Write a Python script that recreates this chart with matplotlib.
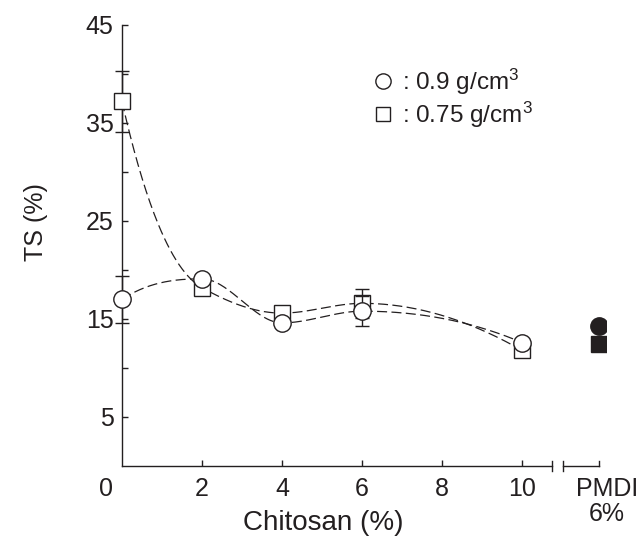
import numpy as np
import matplotlib
matplotlib.use('Agg')
import matplotlib.pyplot as plt
from matplotlib.lines import Line2D

# ------------------------------------------------------------------
# Data
# ------------------------------------------------------------------
chitosan = [0, 2, 4, 6, 10]
ts_090 = [17.0, 19.1, 14.6, 15.8, 12.6]
err_090 = [2.4, 0.5, 0.4, 1.5, 0.4]
ts_075 = [37.2, 18.2, 15.6, 16.6, 11.8]
err_075 = [3.1, 0.5, 0.6, 1.5, 0.4]
pmdi_090 = 14.3
pmdi_075 = 12.4
xtick_values = [2, 4, 6, 8, 10]
ytick_major = [5, 15, 25, 35, 45]
ytick_minor = [10, 20, 30, 40]

ink = '#231f20'
plt.rcParams['font.family'] = ['Liberation Sans', 'DejaVu Sans']
plt.rcParams['mathtext.fontset'] = 'custom'
plt.rcParams['mathtext.rm'] = 'Liberation Sans'
plt.rcParams['mathtext.it'] = 'Liberation Sans:italic'
plt.rcParams['mathtext.bf'] = 'Liberation Sans:bold'


def pchip_curve(x, y, xs, startSlope=None):
    # monotone cubic hermite through the points (smooth guide line)
    x = np.asarray(x, float)
    y = np.asarray(y, float)
    h = np.diff(x)
    d = np.diff(y) / h
    n = len(x)
    m = np.zeros(n)
    for k in range(1, n - 1):
        if d[k - 1] * d[k] > 0:
            w1 = 2 * h[k] + h[k - 1]
            w2 = h[k] + 2 * h[k - 1]
            m[k] = (w1 + w2) / (w1 / d[k - 1] + w2 / d[k])
    def endSlope(h0, h1, d0, d1):
        s = ((2 * h0 + h1) * d0 - h0 * d1) / (h0 + h1)
        if np.sign(s) != np.sign(d0):
            s = 0.0
        elif np.sign(d0) != np.sign(d1) and abs(s) > abs(3 * d0):
            s = 3 * d0
        return s
    m[0] = endSlope(h[0], h[1], d[0], d[1])
    m[-1] = endSlope(h[-1], h[-2], d[-1], d[-2])
    if startSlope is not None:
        m[0] = startSlope
    out = np.empty_like(xs)
    for i, xv in enumerate(xs):
        k = min(np.searchsorted(x, xv, side='right') - 1, n - 2)
        t = (xv - x[k]) / h[k]
        h00 = 2 * t**3 - 3 * t**2 + 1
        h10 = t**3 - 2 * t**2 + t
        h01 = -2 * t**3 + 3 * t**2
        h11 = t**3 - t**2
        out[i] = h00 * y[k] + h10 * h[k] * m[k] + h01 * y[k + 1] + h11 * h[k] * m[k + 1]
    return out


fig = plt.figure(figsize=(6.42, 5.41), dpi=100)
ax = fig.add_axes([122 / 642, 75 / 541, 484 / 642, 441 / 541])
ax.set_xlim(0, 12.1)
ax.set_ylim(0, 45)

#------------- smooth dashed guide curves
xs = np.linspace(0, 10, 400)
dash = (0, (8, 3.5))
ax.plot(xs, pchip_curve(chitosan, ts_075, xs, startSlope=-18), color=ink,
        linewidth=0.9, linestyle=dash, zorder=2)
ax.plot(xs, pchip_curve(chitosan, ts_090, xs), color=ink,
        linewidth=0.9, linestyle=dash, zorder=2)

#------------- points with error bars
ax.errorbar(chitosan, ts_075, yerr=err_075, fmt='s', markersize=11.5,
            markerfacecolor='white', markeredgecolor=ink, markeredgewidth=1.0,
            ecolor=ink, elinewidth=1.0, capsize=5, capthick=1.0, zorder=3,
            clip_on=False)
ax.errorbar(chitosan, ts_090, yerr=err_090, fmt='o', markersize=12.5,
            markerfacecolor='white', markeredgecolor=ink, markeredgewidth=1.0,
            ecolor=ink, elinewidth=1.0, capsize=5, capthick=1.0, zorder=4,
            clip_on=False)

#------------- PMDI reference
pmdiPos = 11.93
ax.plot([pmdiPos], [pmdi_075], 's', markersize=12, color=ink, zorder=3)
ax.plot([pmdiPos], [pmdi_090], 'o', markersize=12.5, color=ink, zorder=4)

#------------- axes / broken x axis
for side in ['top', 'right']:
    ax.spines[side].set_visible(False)
ax.spines['left'].set_color(ink)
ax.spines['bottom'].set_color(ink)
ax.spines['left'].set_linewidth(1.0)
ax.spines['bottom'].set_linewidth(1.0)
ax.spines['bottom'].set_bounds(0, 10.75)
trans = ax.get_xaxis_transform()
breakH = 0.012
ax.plot([10.75, 10.75], [-breakH, breakH], color=ink, lw=1.0, transform=trans, clip_on=False)
ax.plot([11.03, 11.03], [-breakH, breakH], color=ink, lw=1.0, transform=trans, clip_on=False)
ax.plot([11.03, 11.93], [0, 0], color=ink, lw=1.0, transform=trans, clip_on=False)
ax.plot([11.93, 11.93], [0, breakH], color=ink, lw=1.0, transform=trans, clip_on=False)

ax.set_xticks(xtick_values)
ax.set_xticklabels([str(v) for v in xtick_values])
ax.set_yticks(ytick_major)
ax.set_yticks(ytick_minor, minor=True)
ax.tick_params(axis='both', which='both', direction='in', length=4.5,
               width=1.0, color=ink, labelcolor=ink, labelsize=18)
ax.tick_params(axis='x', pad=8)
ax.tick_params(axis='y', pad=6)
ax.text(-0.4, -0.025, '0', transform=trans, ha='center', va='top',
        fontsize=18, color=ink)
ax.text(12.12, -0.025, 'PMDI\n6%', transform=trans, ha='center', va='top',
        fontsize=18, color=ink, linespacing=1.05)

ax.set_xlabel('Chitosan (%)', fontsize=20, color=ink)
ax.xaxis.set_label_coords(0.415, -0.1)
ax.set_ylabel('TS (%)', fontsize=18, color=ink)
ax.yaxis.set_label_coords(-0.153, 0.553)

#------------- legend
handles = [Line2D([], [], linestyle='none', marker='o', markersize=11,
                  markerfacecolor='white', markeredgecolor=ink, markeredgewidth=1.0),
           Line2D([], [], linestyle='none', marker='s', markersize=10,
                  markerfacecolor='white', markeredgecolor=ink, markeredgewidth=1.0)]
ax.legend(handles, [': 0.9 g/cm$^3$', ': 0.75 g/cm$^3$'], loc='upper left',
          bbox_to_anchor=(0.521, 0.905), frameon=False, fontsize=17.5,
          handlelength=0.75, handletextpad=0.4, labelspacing=0.1,
          borderpad=0, borderaxespad=0, labelcolor=ink)

fig.savefig('out.png', dpi=100)
